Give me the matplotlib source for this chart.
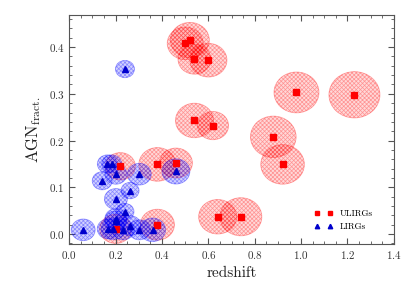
import numpy as np
import matplotlib
matplotlib.use("Agg")
import matplotlib.pyplot as plt
from matplotlib.patches import Ellipse
from matplotlib.ticker import MultipleLocator

plt.rcParams['font.family'] = 'serif'
plt.rcParams['font.serif'] = ['cmr10']
plt.rcParams['mathtext.fontset'] = 'cm'
plt.rcParams['axes.formatter.use_mathtext'] = True
plt.rcParams['hatch.linewidth'] = 0.5

# ULIRGs: redshift, AGN fraction, ellipse width (redshift units)
ulirg_z = [1.23, 0.98, 0.88, 0.92, 0.64, 0.74, 0.50, 0.52, 0.54, 0.60,
           0.54, 0.62, 0.22, 0.38, 0.46, 0.38, 0.20]
ulirg_agn = [0.298, 0.303, 0.208, 0.149, 0.037, 0.037, 0.408, 0.415, 0.374, 0.372,
             0.243, 0.232, 0.145, 0.149, 0.152, 0.020, 0.011]
ulirg_w = [0.22, 0.194, 0.197, 0.188, 0.164, 0.181, 0.155, 0.168, 0.142, 0.16,
           0.164, 0.134, 0.13, 0.16, 0.142, 0.147, 0.138]

# LIRGs
lirg_z = [0.06, 0.142, 0.164, 0.183, 0.201, 0.302, 0.262, 0.201, 0.240, 0.201,
          0.20, 0.168, 0.19, 0.233, 0.262, 0.302, 0.359, 0.46, 0.24]
lirg_agn = [0.009, 0.114, 0.150, 0.150, 0.128, 0.128, 0.093, 0.075, 0.048, 0.033,
            0.028, 0.011, 0.011, 0.009, 0.018, 0.009, 0.009, 0.134, 0.353]
lirg_w = [0.103, 0.086, 0.086, 0.086, 0.095, 0.103, 0.078, 0.099, 0.078, 0.095,
          0.095, 0.095, 0.103, 0.095, 0.095, 0.095, 0.112, 0.12, 0.082]

aspect = 0.45  # ellipse height / width in data units

fig = plt.figure(figsize=(4.15, 2.91), dpi=100)
ax = fig.add_axes([0.167, 0.162, 0.782, 0.787])

for z, a, w in zip(ulirg_z, ulirg_agn, ulirg_w):
    ax.add_patch(Ellipse((z, a), w, w * aspect, facecolor=(1, 0, 0, 0.15),
                         edgecolor=(1, 0, 0, 0.32), hatch='xxxxxxxx', lw=0.6, zorder=1))
for z, a, w in zip(lirg_z, lirg_agn, lirg_w):
    ax.add_patch(Ellipse((z, a), w, w * aspect, facecolor=(0, 0, 1, 0.18),
                         edgecolor=(0, 0, 1, 0.35), hatch='xxxxxxxx', lw=0.6, zorder=2))

ax.plot(ulirg_z, ulirg_agn, 's', color='red', ms=4, ls='none', label='ULIRGs', zorder=3)
ax.plot(lirg_z, lirg_agn, '^', color='#0000cc', ms=4, ls='none', label='LIRGs', zorder=4)

ax.set_xlim(0, 1.4)
ax.set_ylim(-0.021, 0.469)
ax.xaxis.set_major_locator(MultipleLocator(0.2))
ax.xaxis.set_minor_locator(MultipleLocator(0.05))
ax.yaxis.set_major_locator(MultipleLocator(0.1))
ax.yaxis.set_minor_locator(MultipleLocator(0.02))
ax.tick_params(which='both', direction='in', top=True, right=True, colors='#555555',
               labelcolor='#333333', labelsize=8)
ax.tick_params(which='major', length=4)
ax.tick_params(which='minor', length=2)
for s in ax.spines.values():
    s.set_color('#555555')

ax.set_xlabel('redshift', fontsize=11, color='#222222')
ax.set_ylabel(r'$\mathrm{AGN}_{\mathrm{fract.}}$', fontsize=12, color='#222222')

ax.legend(loc='lower right', numpoints=2, frameon=False, fontsize=6.5,
          markerscale=0.8, bbox_to_anchor=(0.96, 0.02))

fig.savefig('out.png', dpi=100)
